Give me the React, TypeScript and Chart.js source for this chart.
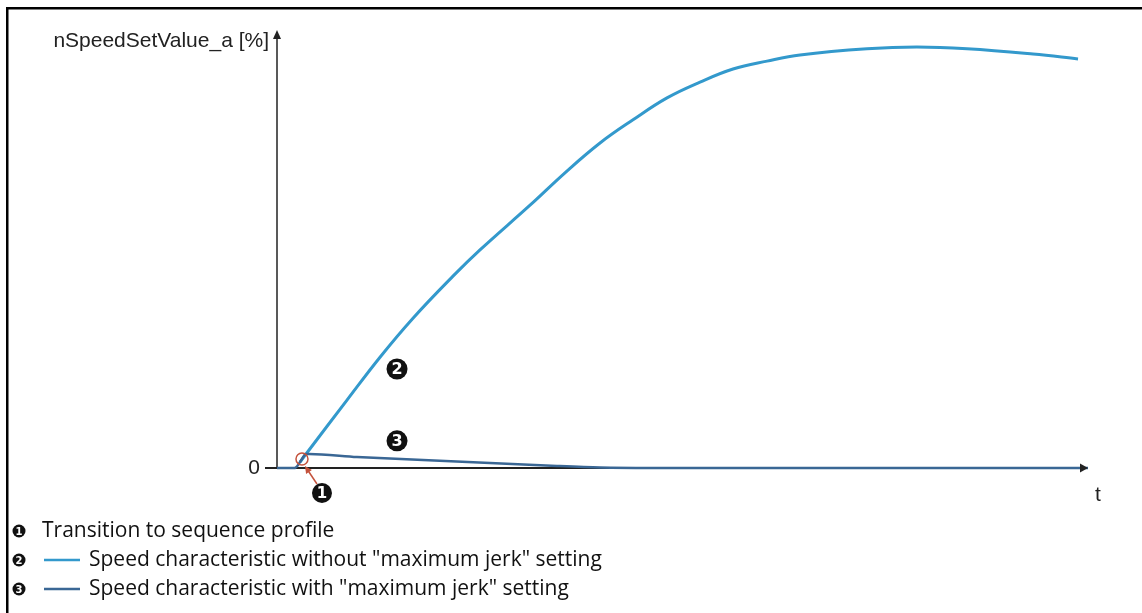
import React, { useEffect, useRef } from "react";
import { Chart, registerables } from "chart.js";

Chart.register(...registerables);

// time axis (0..100 arbitrary units), speed in % of full height
const timeWithoutJerk = [2.84, 3.58, 8.63, 12.7, 16.77, 21.7, 25.03, 31.2, 35.51, 39.83, 43.9, 48.09, 52.16, 56.23, 60.42, 64.49, 72.75, 78.91, 85.08, 93.22, 98.77];
const speedWithoutJerk = [1.37, 3.2, 15.5, 25.3, 34.2, 43.8, 49.8, 60.0, 67.4, 74.2, 79.5, 84.5, 88.1, 91.1, 92.9, 94.3, 95.7, 96.1, 95.7, 94.5, 93.4];

const timeWithJerk = [0, 2.22, 3.08, 3.58, 9.86, 18.0, 26.26, 34.53, 39.83, 45.99, 100];
const speedWithJerk = [0, 0, 2.05, 3.2, 2.51, 1.83, 1.14, 0.46, 0.11, 0, 0];

const transitionPoint = { t: 3.08, v: 2.05 };

const yAxisLabel = "nSpeedSetValue_a [%]";
const xAxisLabel = "t";
const zeroLabel = "0";
const legendItems = [
  "Transition to sequence profile",
  "Speed characteristic without \"maximum jerk\" setting",
  "Speed characteristic with \"maximum jerk\" setting",
];

const LIGHT = "#3399cc";
const DARK = "#3a6795";
const RED = "#c4523c";

function circledNum(ctx: CanvasRenderingContext2D, x: number, y: number, r: number, n: string, fs: number) {
  ctx.save();
  ctx.beginPath();
  ctx.arc(x, y, r, 0, Math.PI * 2);
  ctx.fillStyle = "#111";
  ctx.fill();
  ctx.fillStyle = "#fff";
  ctx.font = `bold ${fs}px "DejaVu Sans"`;
  ctx.textAlign = "center";
  ctx.textBaseline = "middle";
  ctx.fillText(n, x, y + 1);
  ctx.restore();
}

const axesPlugin = {
  id: "axesPlugin",
  beforeDatasetsDraw(chart: any) {
    const ctx: CanvasRenderingContext2D = chart.ctx;
    const xs = chart.scales.x;
    const ys = chart.scales.y;
    const x0 = xs.getPixelForValue(0);
    const y0 = ys.getPixelForValue(0);
    const xEnd = xs.getPixelForValue(100);
    const yTop = ys.getPixelForValue(100);
    ctx.save();
    ctx.strokeStyle = "#222";
    ctx.fillStyle = "#222";
    ctx.lineWidth = 1.5;
    ctx.beginPath();
    ctx.moveTo(x0, y0);
    ctx.lineTo(x0, yTop + 7);
    ctx.stroke();
    ctx.beginPath();
    ctx.moveTo(x0, yTop);
    ctx.lineTo(x0 - 4, yTop + 9);
    ctx.lineTo(x0 + 4, yTop + 9);
    ctx.closePath();
    ctx.fill();
    ctx.lineWidth = 2;
    ctx.beginPath();
    ctx.moveTo(x0 - 12, y0);
    ctx.lineTo(xEnd - 6, y0);
    ctx.stroke();
    ctx.restore();
  },
  afterDatasetsDraw(chart: any) {
    const ctx: CanvasRenderingContext2D = chart.ctx;
    const xs = chart.scales.x;
    const ys = chart.scales.y;
    const x0 = xs.getPixelForValue(0);
    const y0 = ys.getPixelForValue(0);
    const xEnd = xs.getPixelForValue(100);
    const yTop = ys.getPixelForValue(100);
    ctx.save();
    ctx.fillStyle = "#222";
    ctx.beginPath();
    ctx.moveTo(xEnd, y0);
    ctx.lineTo(xEnd - 8, y0 - 4.5);
    ctx.lineTo(xEnd - 8, y0 + 4.5);
    ctx.closePath();
    ctx.fill();

    // frame (top + left)
    ctx.strokeStyle = "#000";
    ctx.lineWidth = 2.5;
    ctx.beginPath();
    ctx.moveTo(7.25, 613);
    ctx.lineTo(7.25, 8.25);
    ctx.lineTo(1142, 8.25);
    ctx.stroke();

    // axis texts
    ctx.fillStyle = "#222";
    ctx.font = '21px "Liberation Sans"';
    ctx.textBaseline = "middle";
    ctx.textAlign = "right";
    ctx.fillText(yAxisLabel, x0 - 8, yTop + 11);
    ctx.fillText(zeroLabel, x0 - 17, y0);
    ctx.textAlign = "center";
    ctx.fillText(xAxisLabel, xEnd + 10, y0 + 27);

    // transition marker
    const tx = xs.getPixelForValue(transitionPoint.t);
    const ty = ys.getPixelForValue(transitionPoint.v);
    ctx.strokeStyle = RED;
    ctx.lineWidth = 1.5;
    ctx.beginPath();
    ctx.arc(tx, ty, 6, 0, Math.PI * 2);
    ctx.stroke();
    const ax1 = tx + 15, ay1 = ty + 25;
    const ax2 = tx + 3, ay2 = ty + 7;
    ctx.beginPath();
    ctx.moveTo(ax1, ay1);
    ctx.lineTo(ax2 + 2, ay2 + 3);
    ctx.stroke();
    const ang = Math.atan2(ay2 - ay1, ax2 - ax1);
    ctx.fillStyle = RED;
    ctx.beginPath();
    ctx.moveTo(ax2, ay2);
    ctx.lineTo(ax2 - 8 * Math.cos(ang - 0.45), ay2 - 8 * Math.sin(ang - 0.45));
    ctx.lineTo(ax2 - 8 * Math.cos(ang + 0.45), ay2 - 8 * Math.sin(ang + 0.45));
    ctx.closePath();
    ctx.fill();

    // callout numbers on chart
    circledNum(ctx, tx + 20, ty + 34, 10, "1", 15);
    circledNum(ctx, xs.getPixelForValue(14.8), ys.getPixelForValue(22.6), 10.5, "2", 16);
    circledNum(ctx, xs.getPixelForValue(14.8), ys.getPixelForValue(6.2), 10.5, "3", 16);

    // legend at bottom
    const lx = 19;
    const rows = [531, 560, 589];
    ctx.font = '21px "Open Sans"';
    ctx.textAlign = "left";
    ctx.textBaseline = "middle";
    circledNum(ctx, lx, rows[0], 6.5, "1", 10);
    ctx.fillStyle = "#111";
    ctx.fillText(legendItems[0], 42, rows[0]);
    circledNum(ctx, lx, rows[1], 6.5, "2", 10);
    circledNum(ctx, lx, rows[2], 6.5, "3", 10);
    ctx.lineWidth = 2.5;
    ctx.strokeStyle = LIGHT;
    ctx.beginPath();
    ctx.moveTo(44, rows[1]);
    ctx.lineTo(80, rows[1]);
    ctx.stroke();
    ctx.strokeStyle = DARK;
    ctx.beginPath();
    ctx.moveTo(44, rows[2]);
    ctx.lineTo(80, rows[2]);
    ctx.stroke();
    ctx.fillStyle = "#111";
    ctx.font = '21px "Open Sans"';
    ctx.fillText(legendItems[1], 89, rows[1]);
    ctx.fillText(legendItems[2], 89, rows[2]);
    ctx.restore();
  },
};

export default function App() {
  const ref = useRef<HTMLCanvasElement | null>(null);
  useEffect(() => {
    if (!ref.current) return;
    const chart = new Chart(ref.current, {
      type: "line",
      data: {
        datasets: [
          {
            label: "with jerk",
            data: timeWithJerk.map((t, i) => ({ x: t, y: speedWithJerk[i] })),
            borderColor: DARK,
            borderWidth: 2.5,
            pointRadius: 0,
            tension: 0.3,
            clip: false as any,
          },
          {
            label: "without jerk",
            data: timeWithoutJerk.map((t, i) => ({ x: t, y: speedWithoutJerk[i] })),
            borderColor: LIGHT,
            borderWidth: 3,
            pointRadius: 0,
            tension: 0.4,
            clip: false as any,
          },
        ],
      },
      options: {
        animation: false,
        responsive: false,
        layout: { padding: { left: 277, right: 54, top: 30, bottom: 145 } },
        plugins: { legend: { display: false }, tooltip: { enabled: false } },
        events: [],
        scales: {
          x: { type: "linear", min: 0, max: 100, display: false },
          y: { type: "linear", min: 0, max: 100, display: false },
        },
      },
      plugins: [axesPlugin],
    });
    return () => chart.destroy();
  }, []);
  return (
    <div style={{ position: "absolute", left: 0, top: 0, width: 1142, height: 613, background: "#fff" }}>
      <canvas ref={ref} width={1142} height={613} />
    </div>
  );
}
